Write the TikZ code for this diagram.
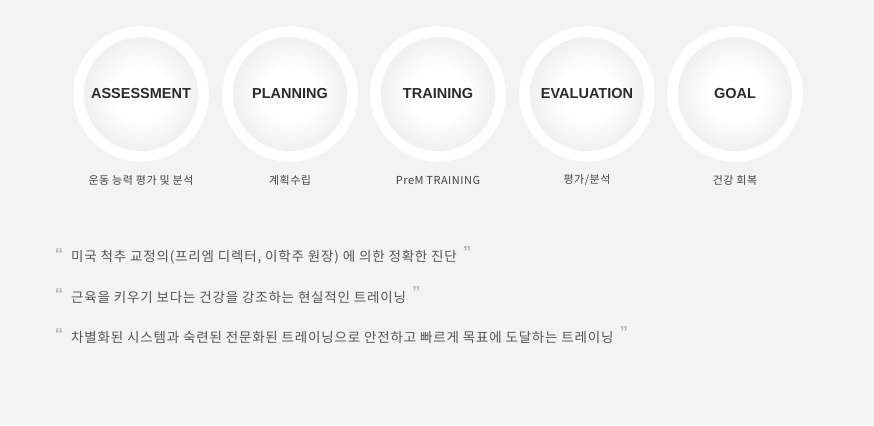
\documentclass[tikz,border=0pt]{standalone}
\usepackage{fontspec}
\setmainfont{Liberation Sans}
\newfontfamily\kr[LetterSpace=6]{Noto Sans CJK KR}
\newfontfamily\krsub[LetterSpace=4.5]{Noto Sans CJK KR}
\newfontfamily\ttlfont{Liberation Sans}
\definecolor{bgc}{HTML}{F3F3F3}
\definecolor{coreedge}{HTML}{F0F0F0}
\definecolor{ttlc}{HTML}{2B2B2B}
\definecolor{subc}{HTML}{444444}
\definecolor{quotec}{HTML}{555555}
\definecolor{qmarkc}{HTML}{B3B3B3}
\pgfdeclareradialshading{innerglow}{\pgfpoint{0bp}{0bp}}{color(0bp)=(white); color(12bp)=(white); color(25bp)=(coreedge); color(50bp)=(coreedge)}
\begin{document}
\begin{tikzpicture}[x=1pt,y=-1pt,
  ring/.style={circle, inner sep=0pt, minimum size=136pt, fill=white, draw=white!95!black, line width=0.3pt},
  core/.style={circle, inner sep=0pt, minimum size=114pt, shading=innerglow, text=ttlc, font=\ttlfont\bfseries\fontsize{14.5}{16}\selectfont},
  sub/.style={inner sep=0pt, text=subc, font=\krsub\fontsize{11}{13}\selectfont},
  qline/.style={inner sep=0pt, anchor=west, text=quotec, font=\kr\fontsize{13.5}{15}\selectfont},
  qmark/.style={inner sep=0pt, text=qmarkc, font=\ttlfont\bfseries\fontsize{16}{16}\selectfont}
]
\fill[bgc] (0,0) rectangle (874,425);
\useasboundingbox (0,0) rectangle (874,425);

\node[ring] (r1) at (141,94) {};
\node[ring] (r2) at (290,94) {};
\node[ring] (r3) at (438,94) {};
\node[ring] (r4) at (587,94) {};
\node[ring] (r5) at (735,94) {};

\node[core] (c1) at (r1.center) {ASSESSMENT};
\node[core] (c2) at (r2.center) {PLANNING};
\node[core] (c3) at (r3.center) {TRAINING};
\node[core] (c4) at (r4.center) {EVALUATION};
\node[core] (c5) at (r5.center) {GOAL};

\node[sub] (s1) at (141,180) {운동 능력 평가 및 분석};
\node[sub] (s2) at (290,180) {계획수립};
\node[sub] (s3) at (438,180) {PreM TRAINING};
\node[sub] (s4) at (587,180) {평가/분석};
\node[sub] (s5) at (735,180) {건강 회복};

\node[qline] (q1) at (71,257) {미국 척추 교정의(프리엠 디렉터, 이학주 원장) 에 의한 정확한 진단};
\node[qline] (q2) at (71,297) {근육을 키우기 보다는 건강을 강조하는 현실적인 트레이닝};
\node[qline] (q3) at (71,337) {차별화된 시스템과 숙련된 전문화된 트레이닝으로 안전하고 빠르게 목표에 도달하는 트레이닝};

\node[qmark] (o1) at (59,254) {“};
\node[qmark] (o2) at (59,294) {“};
\node[qmark] (o3) at (59,334) {“};
\node[qmark, anchor=center] (e1) at ([xshift=10pt,yshift=5pt]q1.east) {”};
\node[qmark, anchor=center] (e2) at ([xshift=10pt,yshift=5pt]q2.east) {”};
\node[qmark, anchor=center] (e3) at ([xshift=10pt,yshift=5pt]q3.east) {”};
\end{tikzpicture}
\end{document}
